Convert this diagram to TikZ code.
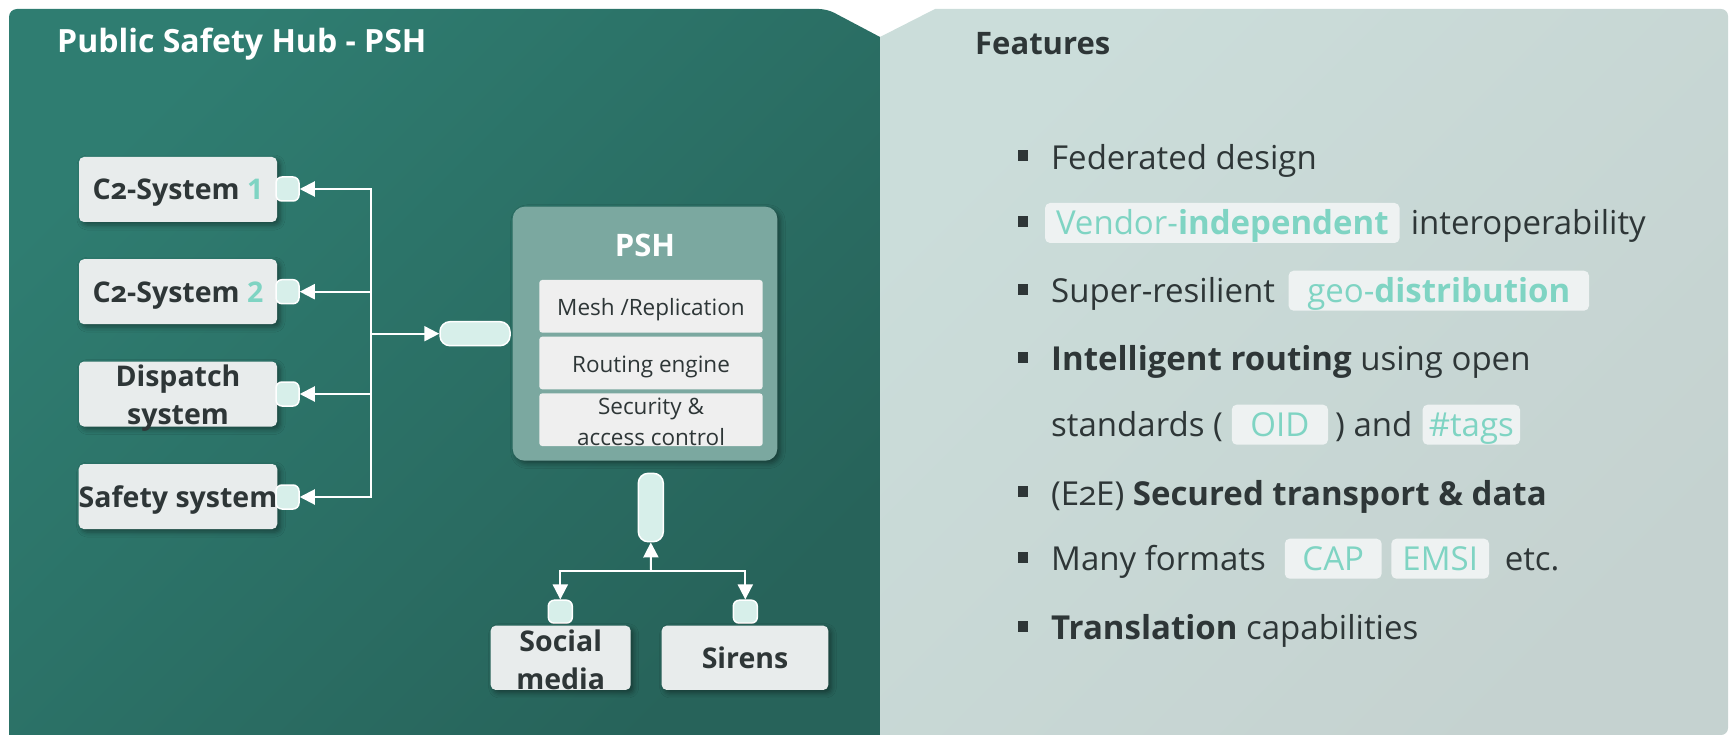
\documentclass[tikz,border=0pt]{standalone}
\usepackage{fontspec}
\setmainfont{Open Sans}
\newfontfamily\osf{Open Sans}[Numbers=OldStyle]
\usetikzlibrary{arrows.meta,shadows.blur}
\definecolor{panelLtop}{HTML}{2F7D71}
\definecolor{panelLbot}{HTML}{27635A}
\definecolor{panelRtop}{HTML}{CBDDDA}
\definecolor{panelRbot}{HTML}{C5D2D0}
\definecolor{boxfill}{HTML}{E8ECEC}
\definecolor{portfill}{HTML}{D7EFEA}
\definecolor{textdark}{HTML}{2E3637}
\definecolor{accent}{HTML}{7FD4C3}
\definecolor{tagfill}{HTML}{EEF2F2}
\definecolor{pshfill}{HTML}{7BA8A0}
\definecolor{infill}{HTML}{EFEFEF}
\newcommand{\boxfont}{\fontsize{28.5pt}{38pt}\selectfont\bfseries}
\newcommand{\infont}{\fontsize{22.5pt}{31pt}\selectfont}
\newcommand{\featfont}{\fontsize{33pt}{40pt}\selectfont}
\begin{document}
\begin{tikzpicture}[x=1pt,y=-1pt,
  shad/.style={blur shadow={shadow xshift=3pt,shadow yshift=-3pt,shadow blur radius=5pt,shadow opacity=40}},
  sysbox/.style={fill=boxfill,rounded corners=5pt,minimum width=198pt,minimum height=65pt,inner sep=0pt,font=\boxfont,text=textdark,text height=21pt,text depth=0pt,shad},
  systext/.style={font=\boxfont,text=textdark,align=center,inner sep=0pt},
  port/.style={fill=portfill,draw=white,line width=1.5pt,rounded corners=6pt,inner sep=0pt,minimum width=23pt,minimum height=24pt},
  link/.style={draw=white,line width=2pt,-{Triangle[length=15pt,width=15pt]}},
  pshbox/.style={fill=pshfill,rounded corners=12pt,minimum width=264.6pt,minimum height=254pt,inner sep=0pt,shad},
  inbox/.style={fill=infill,rounded corners=3pt,minimum width=223.4pt,minimum height=52.7pt,inner sep=0pt,font=\infont,text=textdark,text height=18pt,text depth=0pt},
  intext/.style={font=\infont,text=textdark,align=center,inner sep=0pt},
  feat/.style={anchor=base west,inner sep=0pt,font=\featfont,text=textdark},
  tag/.style={anchor=base,fill=tagfill,rounded corners=5pt,inner xsep=0pt,inner ysep=0pt,text height=32pt,text depth=8pt,font=\featfont,text=accent},
  bullet/.style={fill=textdark,minimum width=10pt,minimum height=11pt,inner sep=0pt}
]
\useasboundingbox (0,0) rectangle (1736,735);
% panels
\shade[top color=panelLtop,bottom color=panelLbot,shading angle=45]
  (9,735) {[rounded corners=8pt] -- (9,9) -- (827,9)} -- (880,37) -- (880,735) -- cycle;
\shade[top color=panelRtop,bottom color=panelRbot,shading angle=45]
  (880,735) -- (880,37) -- (935,9) {[rounded corners=7pt] -- (1728,9) -- (1728,735)} -- cycle;
% titles
\node[anchor=base west,inner sep=0pt,font=\fontsize{32pt}{38pt}\selectfont\bfseries,text=white] (title) at (57,53) {Public Safety Hub - PSH};
\node[anchor=base west,inner sep=0pt,font=\fontsize{31pt}{38pt}\selectfont\bfseries,text=textdark] (feattitle) at (975,55) {Features};
% left systems
\node[sysbox] (c1) at (178,189.5) {C{\osf 2}-System \textcolor{accent}{1}};
\node[sysbox] (c2) at (178,291.7) {C{\osf 2}-System \textcolor{accent}{2}};
\node[sysbox,label={[systext,yshift=-4pt]center:Dispatch\\system}] (ds) at (178,394) {};
\node[sysbox] (ss) at (178,496.5) {Safety system};
\node[port] (p1) at (287.5,189) {};
\node[port] (p2) at (287.5,291.7) {};
\node[port] (p3) at (287.5,394) {};
\node[port] (p4) at (287.5,497) {};
% PSH
\node[pshbox] (psh) at (645,333.7) {};
\node[anchor=base,inner sep=0pt,font=\fontsize{31pt}{38pt}\selectfont\bfseries,text=white] (pshT) at (645,256) {PSH};
\node[inbox] (m1) at (651,306.3) {Mesh /Replication};
\node[inbox] (m2) at (651,363) {Routing engine};
\node[inbox,label={[intext,yshift=-2pt]center:Security \&\\access control}] (m3) at (651,419.7) {};
\node[port,minimum width=70pt,minimum height=24pt,rounded corners=10pt] (hp) at (475,333.7) {};
\coordinate (trunk) at (371,333.7);
\draw[link] (trunk) -- (hp.west);
\draw[link] (trunk) |- (p1.east);
\draw[link] (trunk) |- (p2.east);
\draw[link] (trunk) |- (p3.east);
\draw[link] (trunk) |- (p4.east);
% bottom
\node[port,minimum width=25pt,minimum height=68.4pt,rounded corners=10pt] (vp) at (650.8,507.5) {};
\node[port,minimum width=24pt,minimum height=23pt] (ps) at (560.3,611.7) {};
\node[port,minimum width=24pt,minimum height=23pt] (pr) at (745.3,611.7) {};
\node[sysbox,minimum width=140pt,minimum height=64.3pt,label={[systext,yshift=-2pt]center:Social\\media}] (sm) at (560.7,657.8) {};
\node[sysbox,minimum width=166.6pt,minimum height=64.3pt] (sr) at (745,657.8) {Sirens};
\coordinate (br) at (651,571);
\draw[link] (br) -- (vp.south);
\draw[link] (br) -| (ps.north);
\draw[link] (br) -| (pr.north);
% features
\foreach \y [count=\i] in {169,235,302.7,370.7,504,570.7,639.3}
  \node[bullet] (b\i) at (1023,\y-13) {};
\node[feat] (f1) at (1051,170) {Federated design};
\node[tag,minimum width=354.5pt] (t1) at (1222.3,235) {Vendor-\textbf{independent}};
\node[feat] (f2) at (1410.6,235) {interoperability};
\node[feat] (f3) at (1051,302.7) {Super-resilient};
\node[tag,minimum width=300.4pt] (t2) at (1438.8,302.7) {geo-\textbf{distribution}};
\node[feat] (f4) at (1051,370.7) {\textbf{Intelligent routing} using open};
\node[feat] (f5) at (1051,436.7) {standards (};
\node[tag,minimum width=96.3pt] (t3) at (1279.9,436.7) {OID};
\node[feat] (f5b) at (1335,436.7) {) and};
\node[tag,minimum width=97.4pt] (t4) at (1471.3,436.7) {\#tags};
\node[feat] (f6) at (1051,505) {(E{\osf 2}E) \textbf{Secured transport \& data}};
\node[feat] (f7) at (1051,570.7) {Many formats};
\node[tag,minimum width=96.9pt] (t5) at (1333.2,570.7) {CAP};
\node[tag,minimum width=97.7pt] (t6) at (1440.2,570.7) {EMSI};
\node[feat] (f7b) at (1504.6,570.7) {etc.};
\node[feat] (f8) at (1051,639.3) {\textbf{Translation} capabilities};
\end{tikzpicture}
\end{document}
